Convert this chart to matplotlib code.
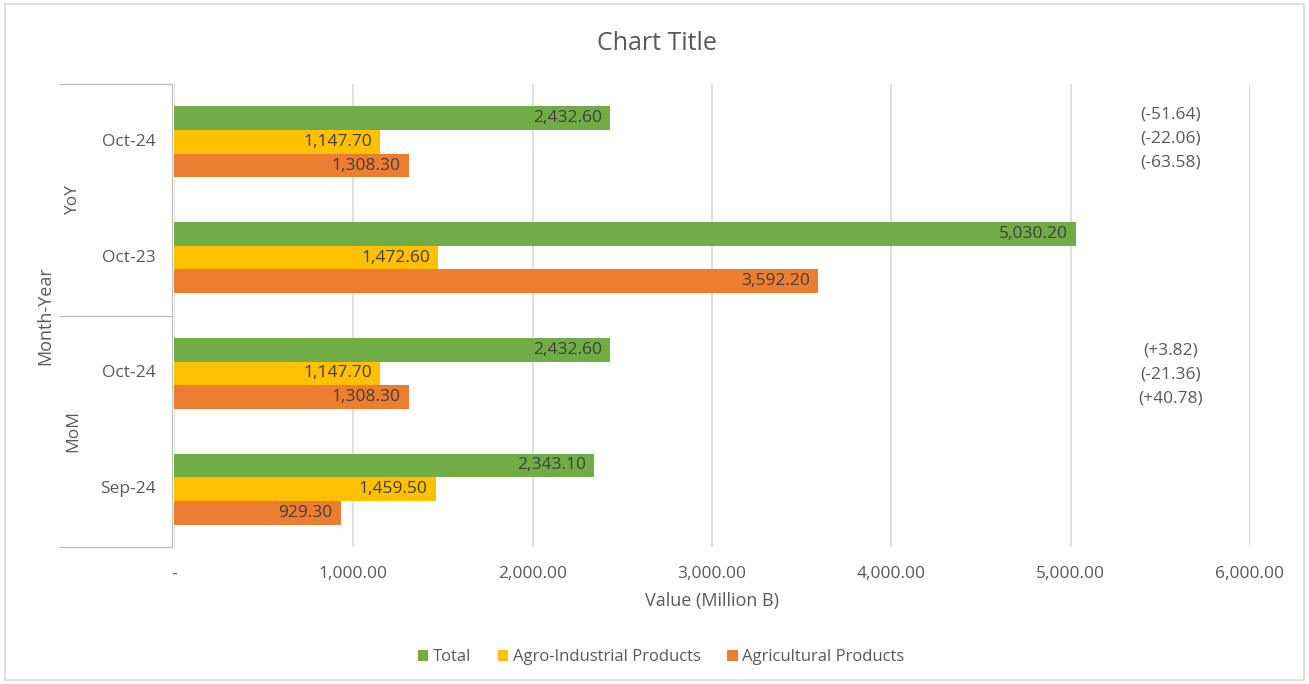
import numpy as np
import matplotlib.pyplot as plt
from matplotlib.lines import Line2D
from matplotlib.patches import Rectangle

# data
categories = ["Oct-24", "Oct-23", "Oct-24", "Sep-24"]
groups = ["YoY", "MoM"]
series_names = ["Total", "Agro-Industrial Products", "Agricultural Products"]
total = [2432.60, 5030.20, 2432.60, 2343.10]
agro_industrial = [1147.70, 1472.60, 1147.70, 1459.50]
agricultural = [1308.30, 3592.20, 1308.30, 929.30]
change_yoy = ["(-51.64)", "(-22.06)", "(-63.58)"]
change_mom = ["(+3.82)", "(-21.36)", "(+40.78)"]

colors = ["#70AD47", "#FFC000", "#ED7D31"]
text_col = "#595959"
grid_col = "#D9D9D9"

plt.rcParams['font.family'] = ['Open Sans', 'DejaVu Sans']
fs = 12.5

fig = plt.figure(figsize=(13.09, 6.84), dpi=100)
ax = fig.add_axes([174/1309, 1-547/684, 1076/1309, 463/684])

y = np.arange(len(categories))
h = 0.205
offsets = [-h, 0, h]
for vals, col, off, name in zip([total, agro_industrial, agricultural], colors, offsets, series_names):
    bars = ax.barh(y + off, vals, height=h, color=col, label=name, zorder=3)
    for b, v in zip(bars, vals):
        ax.text(v - 45, b.get_y() + b.get_height()/2, f"{v:,.2f}", ha='right', va='center',
                fontsize=fs, color="#404040", zorder=4)

# change annotations on the right
for i, t in enumerate(change_yoy):
    ax.text(5555, y[0] + offsets[i] - 0.03, t, ha='center', va='center', fontsize=fs, color=text_col)
for i, t in enumerate(change_mom):
    ax.text(5555, y[2] + offsets[i] + 0.01, t, ha='center', va='center', fontsize=fs, color=text_col)

ax.set_xlim(0, 6000)
ax.set_ylim(3.5, -0.5)
ax.set_xticks(np.arange(0, 6001, 1000))
ax.set_xticklabels(["-"] + [f"{v:,.2f}" for v in range(1000, 6001, 1000)])
ax.tick_params(axis='x', length=0, labelsize=fs, labelcolor=text_col, pad=14)
ax.set_yticks([])
ax.grid(axis='x', color=grid_col, linewidth=1.2, zorder=0)
for s in ['top', 'right', 'bottom']:
    ax.spines[s].set_visible(False)
ax.spines['left'].set_color("#BFBFBF")
ax.spines['left'].set_position(('axes', -2/1076))

ax.set_xlabel("Value (Million B)", fontsize=13, color=text_col, labelpad=7)

# multi-level category axis
x0 = (60 - 174) / 1076
for yy in [0, 0.5, 1.0]:
    ax.add_artist(Line2D([x0, -2/1076], [yy, yy], transform=ax.transAxes, color="#BFBFBF",
                         linewidth=1, clip_on=False))
for yi, lab in zip(y, categories):
    ax.text(-18/1076, 1 - (yi + 0.5)/4, lab, transform=ax.transAxes, ha='right', va='center',
            fontsize=fs, color=text_col)
for gi, g in enumerate(groups):
    ax.text((73 - 174)/1076, 0.75 - gi*0.5, g, transform=ax.transAxes, rotation=90,
            ha='center', va='center', fontsize=fs, color=text_col)
ax.text((45 - 174)/1076, 0.5, "Month-Year", transform=ax.transAxes, rotation=90,
        ha='center', va='center', fontsize=13, color=text_col)

fig.text(657/1309, 1 - 44/684, "Chart Title", ha='center', va='center', fontsize=18, color=text_col)

leg = ax.legend(loc='center', bbox_to_anchor=(661/1309, 1 - 657/684), bbox_transform=fig.transFigure,
                ncol=3, frameon=False, fontsize=12, handlelength=0.65, handleheight=0.65,
                handletextpad=0.25, columnspacing=1.6)
for t in leg.get_texts():
    t.set_color(text_col)

fig.add_artist(Rectangle((5/1309, 4/684), 1299/1309, 676/684, transform=fig.transFigure,
                         fill=False, edgecolor=grid_col, linewidth=1.2))

fig.savefig("out.png", dpi=100)
